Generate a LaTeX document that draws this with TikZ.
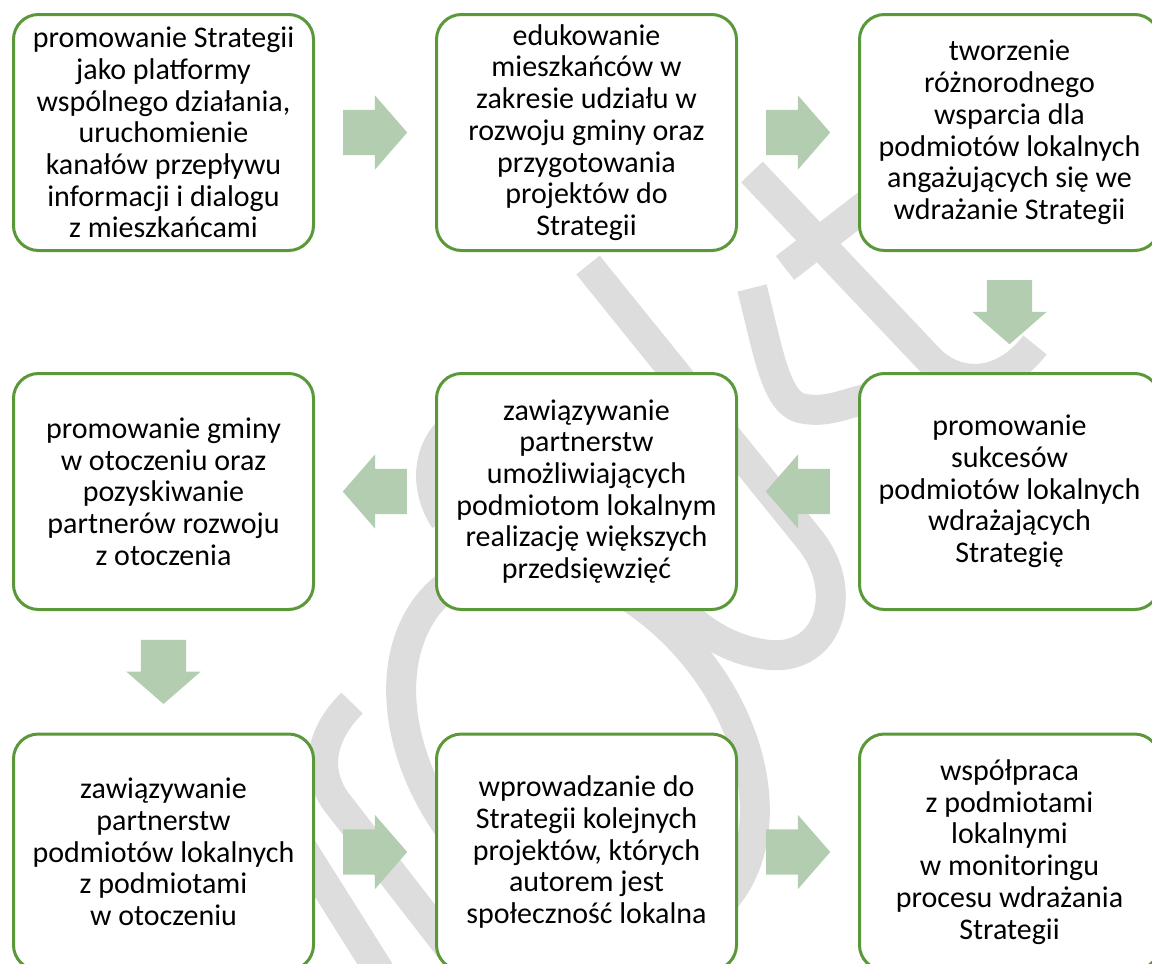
\documentclass[tikz,border=0pt]{standalone}
\usepackage{fontspec}
\setmainfont{Carlito}
\usetikzlibrary{shapes.arrows, calc}
\definecolor{boxgreen}{RGB}{90,152,58}
\definecolor{arrowgreen}{RGB}{179,205,176}
\definecolor{wmgray}{RGB}{221,221,221}

\begin{document}
\begin{tikzpicture}[x=1pt, y=-1pt,
  stepbox/.style={draw=boxgreen, line width=3pt, fill=white, rounded corners=25pt, minimum width=300pt, minimum height=236pt, align=center, inner sep=0pt, font=\fontsize{30}{31.7}\selectfont},
  blockarrow/.style={single arrow, fill=arrowgreen, draw=none, minimum height=64pt, minimum width=74pt, single arrow head extend=14.5pt, single arrow tip angle=98, anchor=tail, inner xsep=0pt, inner ysep=22.5pt},
  downarrow/.style={blockarrow, shape border rotate=270, inner xsep=22.5pt, inner ysep=0pt},
  wmstroke/.style={draw=wmgray, line width=30pt}
]
\useasboundingbox (0,0) rectangle (1152,964);
\clip (0,0) rectangle (1152,964);

% Watermark
\draw[wmstroke] (588,265) -- (810,540) .. controls (850,590) and (830,660) .. (770,655) .. controls (720,650) and (690,620) .. (670,600);
\draw[wmstroke] (752,288) .. controls (768,350) and (775,400) .. (800,408) .. controls (830,415) and (850,400) .. (885,395);
\draw[wmstroke] (752,172) -- (930,360) .. controls (955,385) and (1000,390) .. (1035,345);
\draw[wmstroke] (785,268) -- (905,175);
\draw[wmstroke, rotate around={-50.4:(578,750)}] (578,750) ellipse [x radius=210pt, y radius=150pt];
\draw[wmstroke] (455,955) -- (335,800) .. controls (315,770) and (320,735) .. (352,703);
\draw[wmstroke] (300,845) -- (385,980);
\draw[wmstroke] (455,425) .. controls (425,450) and (425,490) .. (445,520);

% Boxes
\node[stepbox] (strat)  at (163.5,132.5) {promowanie Strategii\\jako platformy\\wspólnego działania,\\uruchomienie\\kanałów przepływu\\informacji i dialogu\\z mieszkańcami};
\node[stepbox] (eduk)   at (586.5,132.5) {edukowanie\\mieszkańców w\\zakresie udziału w\\rozwoju gminy oraz\\przygotowania\\projektów do\\Strategii};
\node[stepbox] (wspar)  at (1009.5,132.5) {tworzenie\\różnorodnego\\wsparcia dla\\podmiotów lokalnych\\angażujących się we\\wdrażanie Strategii};

\node[stepbox] (gmina)  at (163.5,491.5) {promowanie gminy\\w otoczeniu oraz\\pozyskiwanie\\partnerów rozwoju\\z otoczenia};
\node[stepbox] (partn)  at (586.5,491.5) {zawiązywanie\\partnerstw\\umożliwiających\\podmiotom lokalnym\\realizację większych\\przedsięwzięć};
\node[stepbox] (sukces) at (1009.5,491.5) {promowanie\\sukcesów\\podmiotów lokalnych\\wdrażających\\Strategię};

\node[stepbox] (partlok)  at (163.5,852) {zawiązywanie\\partnerstw\\podmiotów lokalnych\\z podmiotami\\w otoczeniu};
\node[stepbox] (projekty) at (586.5,852) {wprowadzanie do\\Strategii kolejnych\\projektów, których\\autorem jest\\społeczność lokalna};
\node[stepbox] (monit)    at (1009.5,852) {współpraca\\z podmiotami\\lokalnymi\\w monitoringu\\procesu wdrażania\\Strategii};

% Arrows
\node[blockarrow] (a1) at ($(strat.east)!0.5!(eduk.west)+(-32,0)$) {};
\node[blockarrow] (a2) at ($(eduk.east)!0.5!(wspar.west)+(-32,0)$) {};
\node[downarrow] (a3) at ($(wspar.south)!0.5!(sukces.north)+(0,-32)$) {};
\node[blockarrow, shape border rotate=180] (a4) at ($(sukces.west)!0.5!(partn.east)+(32,0)$) {};
\node[blockarrow, shape border rotate=180] (a5) at ($(partn.west)!0.5!(gmina.east)+(32,0)$) {};
\node[downarrow] (a6) at ($(gmina.south)!0.5!(partlok.north)+(0,-32)$) {};
\node[blockarrow] (a7) at ($(partlok.east)!0.5!(projekty.west)+(-32,0)$) {};
\node[blockarrow] (a8) at ($(projekty.east)!0.5!(monit.west)+(-32,0)$) {};

\end{tikzpicture}
\end{document}
